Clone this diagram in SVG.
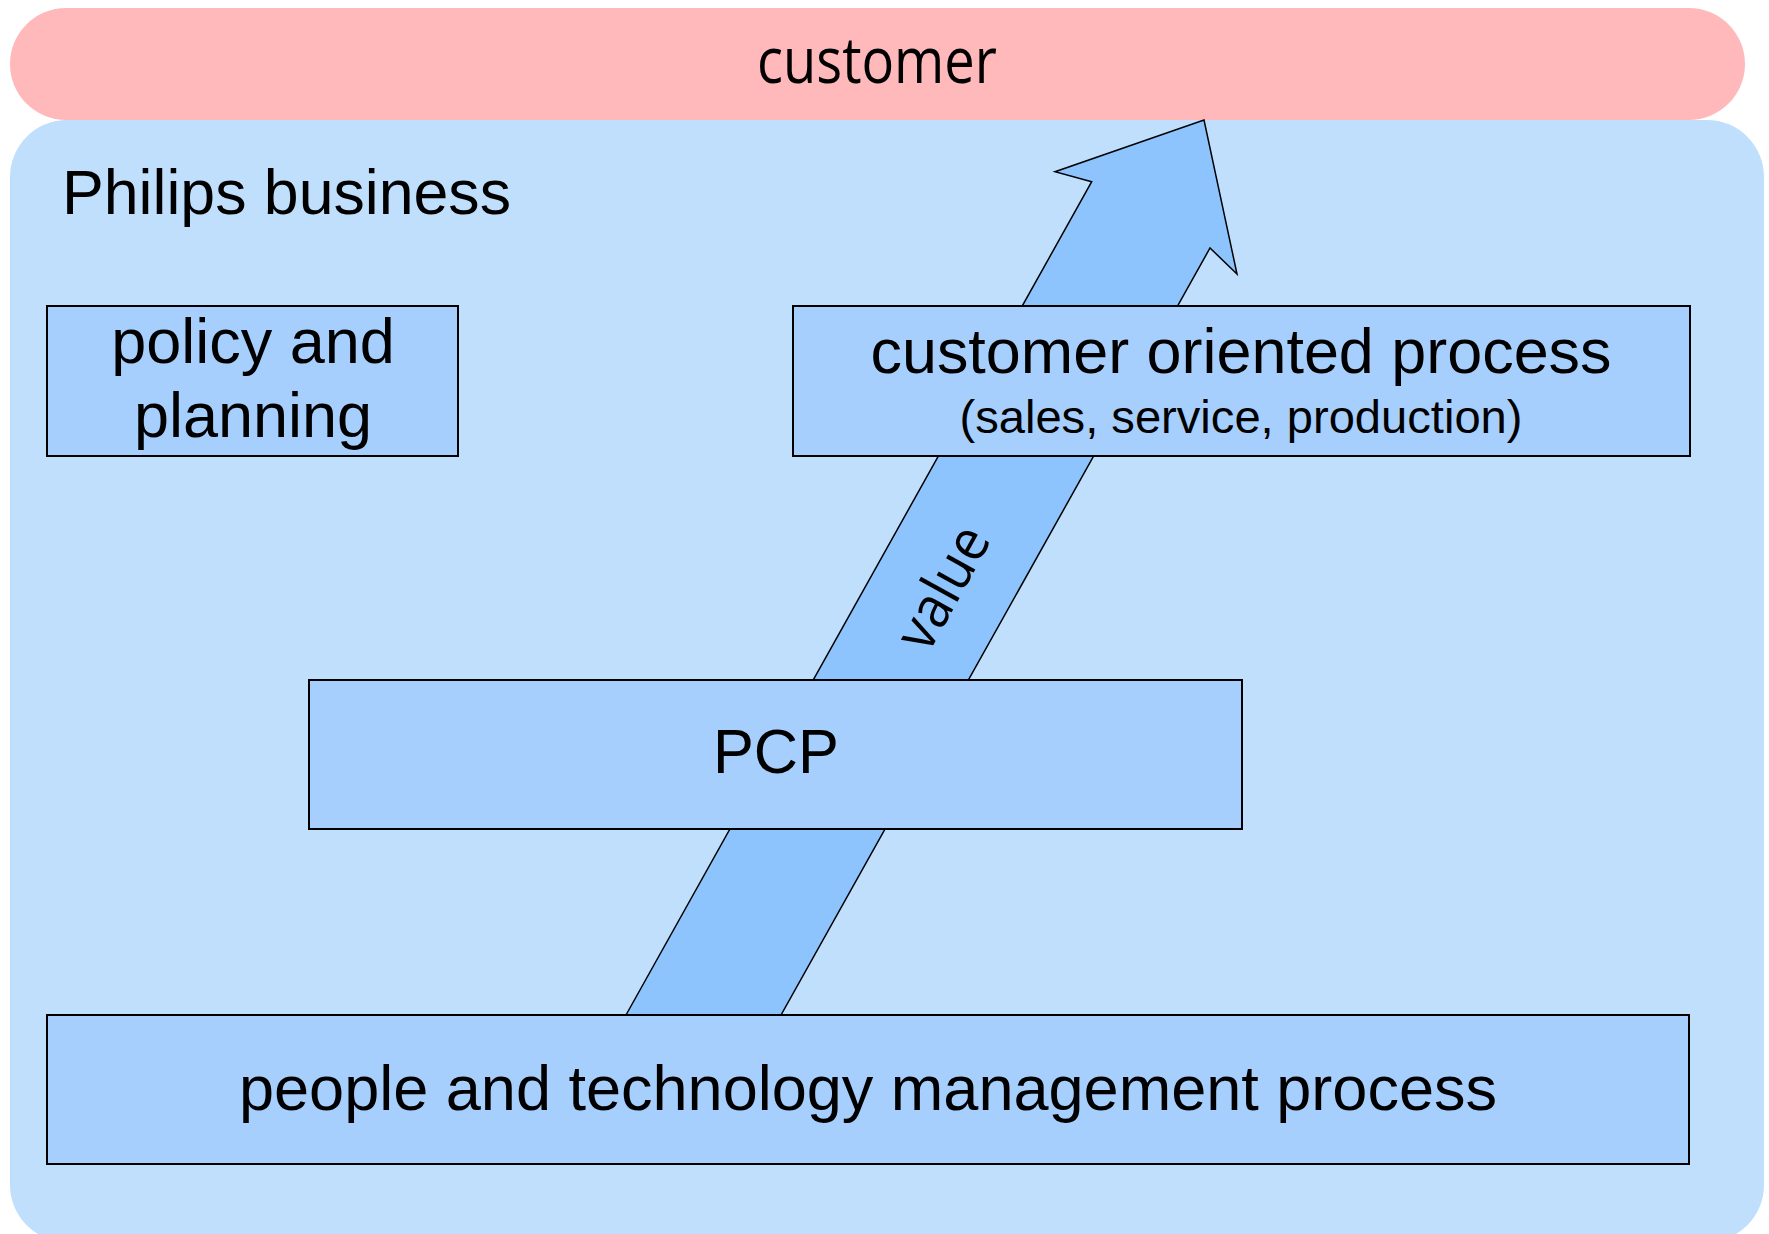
<svg xmlns="http://www.w3.org/2000/svg" width="1769" height="1234" viewBox="0 0 1769 1234">
<style>
.box{fill:#A6CFFE;stroke:#000;stroke-width:2}
.t{font-family:"Liberation Sans",Arial,sans-serif;fill:#000}
.c{font-family:"Open Sans","Noto Sans",sans-serif;fill:#000}
</style>
<rect width="1769" height="1234" fill="#fff"/>
<g id="customer">
<rect x="10" y="8" width="1735" height="112" rx="56" ry="56" fill="#FFB9BB"/>
<text class="c" x="877" y="83" font-size="64" text-anchor="middle" textLength="240" lengthAdjust="spacingAndGlyphs">customer</text>
</g>
<g id="philips-business">
<rect x="10" y="120" width="1754" height="1122" rx="57" ry="57" fill="#BFDFFD"/>
<text class="t" x="62" y="214" font-size="63" textLength="449" lengthAdjust="spacingAndGlyphs">Philips business</text>
</g>
<g id="connectors">
<polygon points="626,1015 1091.7,181.7 1055,171.7 1204,120 1237,274 1210,248 781,1015" fill="#8EC4FD" stroke="#000" stroke-width="1.5" stroke-linejoin="miter"/>
<text class="c" transform="translate(960,597) rotate(-61)" font-size="58" text-anchor="middle" textLength="132" lengthAdjust="spacingAndGlyphs">value</text>
</g>
<g id="policy">
<rect class="box" x="47" y="306" width="411" height="150"/>
<text class="t" x="253" y="363" font-size="63" text-anchor="middle">policy and</text>
<text class="t" x="253" y="437" font-size="63" text-anchor="middle">planning</text>
</g>
<g id="cop">
<rect class="box" x="793" y="306" width="897" height="150"/>
<text class="t" x="1241" y="373" font-size="63" text-anchor="middle" textLength="741" lengthAdjust="spacingAndGlyphs">customer oriented process</text>
<text class="t" x="1241" y="433" font-size="47" text-anchor="middle" textLength="563" lengthAdjust="spacingAndGlyphs">(sales, service, production)</text>
</g>
<g id="pcp">
<rect class="box" x="309" y="680" width="933" height="149"/>
<text class="t" x="776" y="773" font-size="63" text-anchor="middle" textLength="126" lengthAdjust="spacingAndGlyphs">PCP</text>
</g>
<g id="ptmp">
<rect class="box" x="47" y="1015" width="1642" height="149"/>
<text class="t" x="868" y="1110" font-size="63" text-anchor="middle" textLength="1258" lengthAdjust="spacingAndGlyphs">people and technology management process</text>
</g>
</svg>
